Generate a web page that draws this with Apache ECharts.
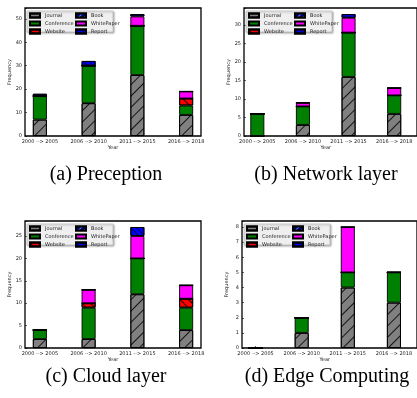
<!DOCTYPE html>
<html>
<head>
<meta charset="utf-8">
<script src="https://cdn.jsdelivr.net/npm/echarts@6/dist/echarts.min.js"></script>
<style>
html,body{margin:0;padding:0;background:#fff;}
#chart{width:417px;height:398px;}
</style>
</head>
<body>
<div id="chart"></div>
<script>
// ---- data ----
const categories = ['2000 --> 2005', '2006 --> 2010', '2011 --> 2015', '2016 --> 2018'];
const seriesNames = ['Journal', 'Conference', 'Website', 'Book', 'WhitePaper', 'Report'];
const captions = ['(a) Preception', '(b) Network layer', '(c) Cloud layer', '(d) Edge Computing'];

const perceptionJournal    = [7, 14, 26, 9];
const perceptionConference = [10, 16, 21, 4];
const perceptionWebsite    = [0, 0, 0, 3];
const perceptionBook       = [0, 0, 0, 0];
const perceptionWhitePaper = [0, 0, 4, 3];
const perceptionReport     = [1, 2, 1, 0];

const networkJournal    = [0, 3, 16, 6];
const networkConference = [6, 5, 12, 5];
const networkWebsite    = [0, 0, 0, 0];
const networkBook       = [0, 0, 0, 0];
const networkWhitePaper = [0, 1, 4, 2];
const networkReport     = [0, 0, 1, 0];

const cloudJournal    = [2, 2, 12, 4];
const cloudConference = [2, 7, 8, 5];
const cloudWebsite    = [0, 1, 0, 2];
const cloudBook       = [0, 0, 0, 0];
const cloudWhitePaper = [0, 3, 5, 3];
const cloudReport     = [0, 0, 2, 0];

const edgeJournal    = [0, 1, 4, 3];
const edgeConference = [0, 1, 1, 2];
const edgeWebsite    = [0, 0, 0, 0];
const edgeBook       = [0, 0, 0, 0];
const edgeWhitePaper = [0, 0, 3, 0];
const edgeReport     = [0, 0, 0, 0];

const yTickMax = [50, 30, 25, 8];
const yTickStep = [10, 5, 5, 1];

// ---- build ----
const panelData = [
  [perceptionJournal, perceptionConference, perceptionWebsite, perceptionBook, perceptionWhitePaper, perceptionReport],
  [networkJournal, networkConference, networkWebsite, networkBook, networkWhitePaper, networkReport],
  [cloudJournal, cloudConference, cloudWebsite, cloudBook, cloudWhitePaper, cloudReport],
  [edgeJournal, edgeConference, edgeWebsite, edgeBook, edgeWhitePaper, edgeReport]
];
const frames = [
  {left: 25, top: 8, width: 176, height: 128},
  {left: 244, top: 8, width: 176, height: 128},
  {left: 25, top: 221, width: 176, height: 127},
  {left: 242, top: 221, width: 176, height: 127}
];
const captionPos = [[106, 175], [326, 175], [106, 377], [327, 377]];

const hatch = (rot, color, gap) => ({
  symbol: 'rect', symbolSize: 1, dashArrayX: [1, 0], dashArrayY: [1, gap],
  rotation: rot, color: color
});
const styles = [
  {color: '#808080', decal: hatch(-Math.PI / 4, 'rgba(0,0,0,0.85)', 7)},
  {color: '#008000'},
  {color: '#ff0000', decal: hatch(Math.PI / 4, 'rgba(0,0,0,0.85)', 5)},
  {color: '#000080', decal: hatch(-Math.PI / 4, 'rgba(80,160,255,0.9)', 3)},
  {color: '#ff00ff'},
  {color: '#0000ff', decal: hatch(Math.PI / 4, 'rgba(0,0,80,0.9)', 3)}
];

const font = 'DejaVu Sans';
const grid = [], xAxis = [], yAxis = [], series = [], legend = [], graphic = [];

panelData.forEach((pd, p) => {
  const f = frames[p];
  let total = 0;
  for (let i = 0; i < categories.length; i++) {
    let s = 0; pd.forEach(arr => s += arr[i]); total = Math.max(total, s);
  }
  const ymax = +(total * 1.05).toFixed(3);
  grid.push({left: f.left, top: f.top, width: f.width, height: f.height, show: true,
    borderColor: '#000', borderWidth: 1.3, backgroundColor: 'transparent', containLabel: false});
  grid.push({left: f.left - 9.5, top: f.top, width: 195, height: f.height, show: false, containLabel: false});
  const g0 = p * 2, g1 = p * 2 + 1;
  xAxis.push({gridIndex: g0, type: 'value', min: 0, max: 1, show: false});
  xAxis.push({gridIndex: g1, type: 'category', data: categories,
    axisLine: {show: false}, axisTick: {show: true, inside: true, length: 2, alignWithLabel: true, lineStyle: {color: '#000', width: 0.6}},
    axisLabel: {fontSize: 5, fontFamily: font, color: '#222', margin: 3, interval: 0, hideOverlap: false},
    name: 'Year', nameLocation: 'middle', nameGap: 9, nameTextStyle: {fontSize: 5, fontFamily: font, color: '#222'}});
  yAxis.push({gridIndex: g0, type: 'value', min: 0, max: ymax, interval: yTickStep[p],
    axisLine: {show: false}, splitLine: {show: false},
    axisTick: {show: true, inside: true, length: 2, lineStyle: {color: '#000', width: 0.6}},
    axisLabel: {fontSize: 5, fontFamily: font, color: '#222', margin: 3,
      formatter: v => (v <= yTickMax[p] + 1e-9) ? String(v) : ''},
    name: 'Frequency', nameLocation: 'middle', nameGap: 13, nameRotate: 90,
    nameTextStyle: {fontSize: 5, fontFamily: font, color: '#222'}});
  yAxis.push({gridIndex: g1, type: 'value', min: 0, max: ymax, show: false});
  pd.forEach((arr, k) => {
    series.push({
      name: seriesNames[k], type: 'bar', xAxisIndex: g1, yAxisIndex: g1, stack: 'p' + p,
      data: arr, barWidth: 14,
      itemStyle: Object.assign({borderColor: '#000', borderWidth: 0.9}, styles[k]),
      emphasis: {disabled: true}, animation: false
    });
  });
  graphic.push({type: 'rect', z: 1, shape: {x: f.left + 2, y: f.top + 3, width: 86, height: 21},
    style: {fill: '#efefef', stroke: '#bbb', lineWidth: 0.6, shadowBlur: 2, shadowColor: 'rgba(0,0,0,0.35)', shadowOffsetX: 1, shadowOffsetY: 1}});
  [[0, 1, 2], [3, 4, 5]].forEach((cols, c) => {
    legend.push({
      data: cols.map(i => ({name: seriesNames[i], icon: 'rect'})), orient: 'vertical',
      left: f.left + 4 + c * 46, top: f.top + 4.5, itemWidth: 10, itemHeight: 4, itemGap: 2,
      padding: 0, selectedMode: false, z: 10,
      textStyle: {fontSize: 5, fontFamily: font, color: '#222', padding: [0, 0, 0, 0]}
    });
  });
  graphic.push({type: 'text', z: 10, x: captionPos[p][0], y: captionPos[p][1],
    style: {text: captions[p], font: '20px "Liberation Serif"', fill: '#000', align: 'center', verticalAlign: 'middle'}});
});

const chart = echarts.init(document.getElementById('chart'), null, {renderer: 'canvas'});
chart.setOption({animation: false, backgroundColor: '#fff', grid, xAxis, yAxis, series, legend, graphic});
</script>
</body>
</html>
